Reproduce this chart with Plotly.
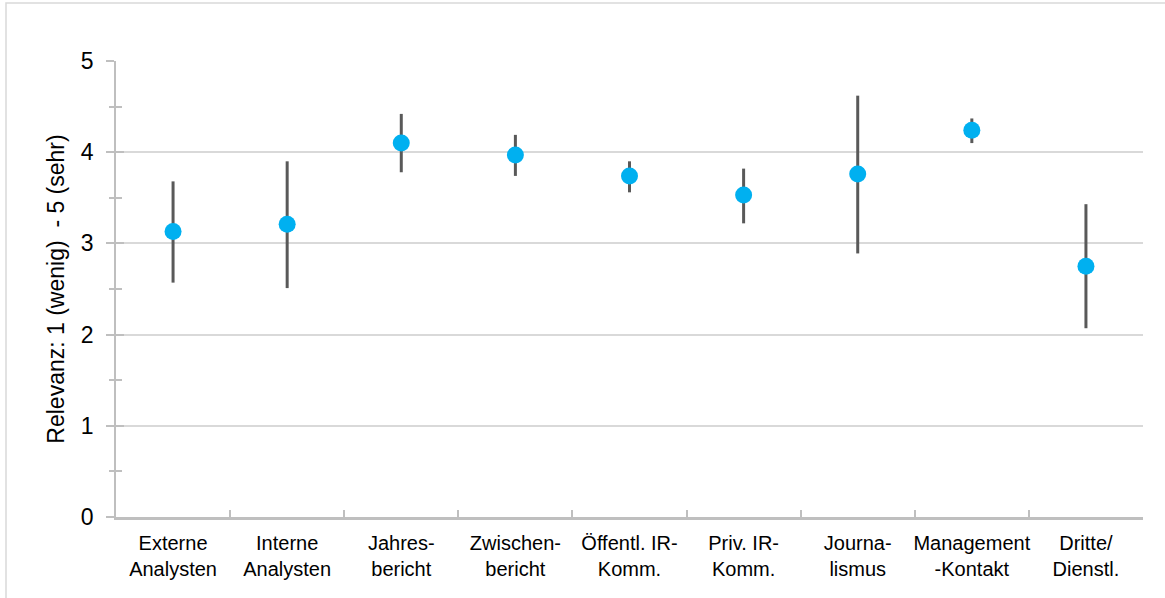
import plotly.graph_objects as go

categories = ["Externe<br>Analysten", "Interne<br>Analysten", "Jahres-<br>bericht",
              "Zwischen-<br>bericht", "Öffentl. IR-<br>Komm.", "Priv. IR-<br>Komm.",
              "Journa-<br>lismus", "Management<br>-Kontakt", "Dritte/<br>Dienstl."]
means = [3.13, 3.21, 4.10, 3.97, 3.74, 3.53, 3.76, 4.24, 2.75]
upper = [3.68, 3.90, 4.42, 4.19, 3.90, 3.82, 4.62, 4.37, 3.43]
lower = [2.57, 2.51, 3.78, 3.74, 3.56, 3.22, 2.89, 4.10, 2.07]

err_plus = [u - m for u, m in zip(upper, means)]
err_minus = [m - l for m, l in zip(means, lower)]

W, H = 1165, 598
L, R, T, B = 116, 22, 61, 81
pw, ph = W - L - R, H - T - B

def px_x(p):
    return (p - L) / pw

def px_y(p):
    return (H - B - p) / ph

AX = "#BFBFBF"

fig = go.Figure()
fig.add_trace(go.Scatter(
    x=categories, y=means, mode="markers",
    marker=dict(color="#00B0F0", size=17, line=dict(width=0)),
    error_y=dict(type="data", symmetric=False, array=err_plus, arrayminus=err_minus,
                 color="#595959", thickness=3, width=0),
    showlegend=False,
))
# helper trace on overlay axis so the inner half of the y ticks is drawn
fig.add_trace(go.Scatter(x=[categories[0]], y=[None], yaxis="y2", showlegend=False,
                         hoverinfo="skip", mode="markers"))

fig.update_layout(
    width=W, height=H,
    margin=dict(l=L, r=R, t=T, b=B, autoexpand=False),
    paper_bgcolor="white", plot_bgcolor="white",
    font=dict(family="Liberation Sans, Arial, sans-serif", color="black"),
    xaxis=dict(
        type="category", range=[-0.5, 8.5],
        showgrid=False, showline=True, linecolor=AX, linewidth=3,
        ticks="inside", tickson="boundaries", ticklen=7, tickwidth=2, tickcolor=AX,
        tickfont=dict(size=20, color="black"), tickangle=0, automargin=False,
        ticklabelstandoff=6,
        zeroline=False,
    ),
    yaxis=dict(
        range=[0, 5], dtick=1, showgrid=True, gridcolor="#D9D9D9", gridwidth=1.5,
        showline=True, linecolor=AX, linewidth=1.5,
        ticks="outside", ticklen=8, tickwidth=1.5, tickcolor=AX,
        minor=dict(dtick=0.5, ticks="outside", ticklen=5, tickwidth=1.5, tickcolor=AX, showgrid=False),
        tickfont=dict(size=23, color="black"),
        ticklabelstandoff=8, automargin=False,
        zeroline=False,
        title=dict(text="Relevanz: 1 (wenig)\u00a0\u00a0- 5 (sehr)", font=dict(size=23, color="black"), standoff=10),
    ),
    yaxis2=dict(
        range=[0, 5], dtick=1, overlaying="y", side="left", showgrid=False, zeroline=False,
        showline=False, showticklabels=False, automargin=False,
        ticks="inside", ticklen=8, tickwidth=1.5, tickcolor=AX,
        minor=dict(dtick=0.5, ticks="inside", ticklen=6, tickwidth=1.5, tickcolor=AX, showgrid=False),
    ),
    shapes=[dict(type="rect", xref="paper", yref="paper",
                 x0=px_x(6), x1=px_x(1175), y0=px_y(605), y1=px_y(3),
                 line=dict(color="#D9D9D9", width=1.5), layer="below")],
)

fig.write_html("out.html", config={"displayModeBar": False},
               post_script="document.body.style.margin='0';")
